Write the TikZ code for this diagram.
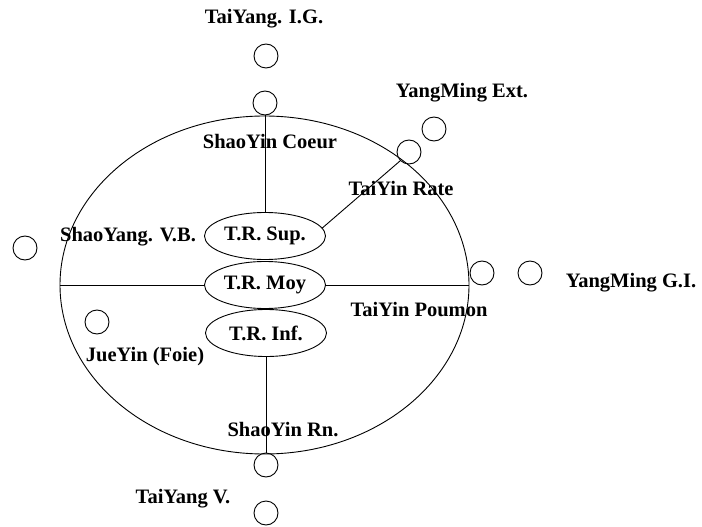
\documentclass[tikz,border=0pt]{standalone}
\usepackage{fontspec}
\setmainfont{Liberation Serif}
\usetikzlibrary{shapes.geometric}
\begin{document}
\begin{tikzpicture}[x=1pt,y=-1pt,
  lbl/.style={font=\fontsize{20.5}{22}\selectfont\bfseries, inner sep=0pt},
  pt/.style={draw, circle, minimum size=24pt, inner sep=0pt, line width=0.9pt},
  tr/.style={draw, ellipse, minimum width=121pt, minimum height=47pt, inner sep=0pt, line width=0.9pt, fill=white, font=\fontsize{20.5}{22}\selectfont\bfseries},
  conn/.style={line width=0.9pt}]
\useasboundingbox (0,0) rectangle (702,527);
% outer ellipse
\node[draw, ellipse, minimum width=409pt, minimum height=338pt, inner sep=0pt, line width=0.9pt] (big) at (264.5,285) {};
% inner ellipses
\node[tr] (sup) at (265,236) {T.R. Sup.};
\node[tr] (moy) at (265,285) {T.R. Moy};
\node[tr] (inf) at (266,333) {T.R. Inf.};
% circles
\node[pt] (cig) at (266,56) {};
\node[pt] (ctop) at (265,103) {};
\node[pt] (cext) at (434,129) {};
\node[pt] (crate) at (409,152) {};
\node[pt] (cleft) at (25,248) {};
\node[pt] (cpou) at (482,273) {};
\node[pt] (cgi) at (530,273) {};
\node[pt] (cfoie) at (97,322) {};
\node[pt] (cbot) at (266,465) {};
\node[pt] (cv) at (266,513) {};
% connectors
\draw[conn] (ctop.south) -- (sup.north);
\draw[conn] (inf.south) -- (cbot.north);
\draw[conn] (big.west) -- (moy.west);
\draw[conn] (moy.east) -- (big.east);
\draw[conn] (sup.8) -- (crate.225);
% labels
\node[lbl] (lig) at (264,19) {TaiYang. I.G.};
\node[lbl] (lext) at (462,93) {YangMing Ext.};
\node[lbl] (lcoeur) at (270,142) {ShaoYin Coeur};
\node[lbl] (lrate) at (401,188) {TaiYin Rate};
\node[lbl] (lvb) at (128,237) {ShaoYang. V.B.};
\node[lbl] (lgi) at (631,283) {YangMing G.I.};
\node[lbl] (lpou) at (419,310) {TaiYin Poumon};
\node[lbl] (lfoie) at (145,357) {JueYin (Foie)};
\node[lbl] (lrn) at (283,430) {ShaoYin Rn.};
\node[lbl] (lv) at (183,499) {TaiYang V.};
\end{tikzpicture}
\end{document}
